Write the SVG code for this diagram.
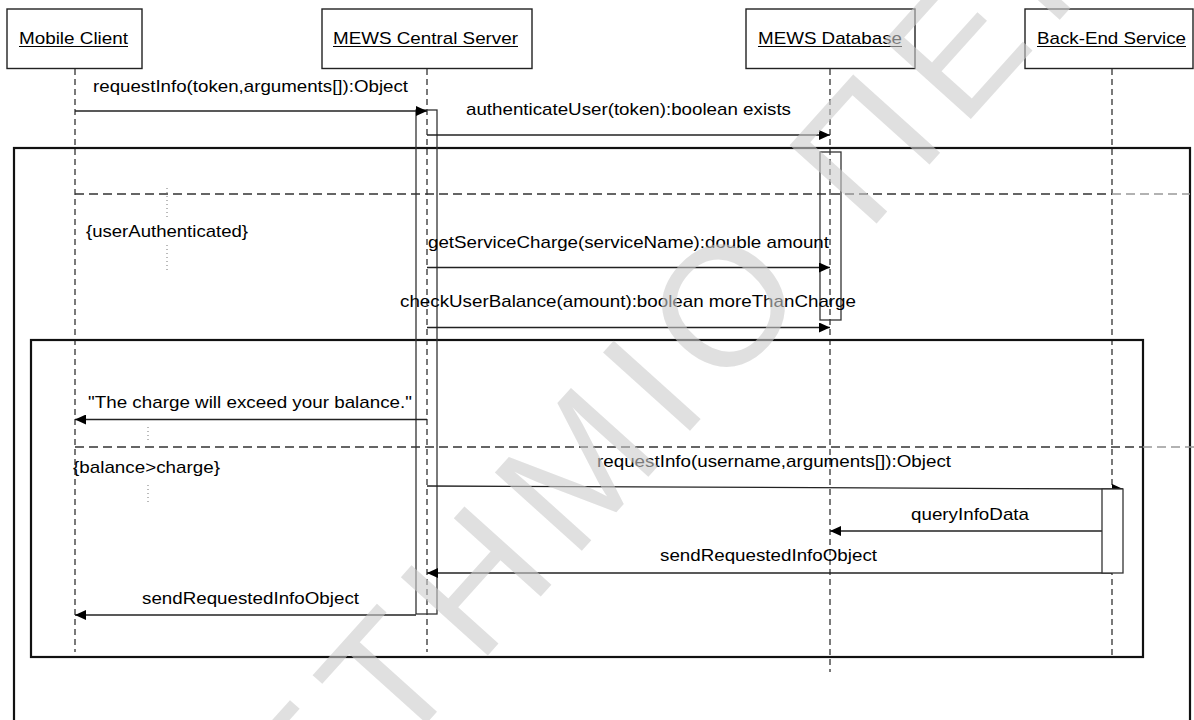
<svg xmlns="http://www.w3.org/2000/svg" width="1194" height="720" viewBox="0 0 1194 720">
<defs>
<marker id="ah" markerWidth="11" markerHeight="10" refX="11" refY="5" orient="auto" markerUnits="userSpaceOnUse"><path d="M0,0 L11,5 L0,10 z" fill="#000"/></marker>
<style>
text{font-family:"Liberation Sans",Arial,Helvetica,sans-serif;font-size:17px;fill:#000}
.hdr{stroke:#222;stroke-width:1.4;fill:#fff}
.ul{stroke:#000;stroke-width:1.2}
.ll{stroke:#333;stroke-width:1.3;stroke-dasharray:6 4;fill:none}
.frame{stroke:#111;stroke-width:2.2;fill:none}
.sep{stroke:#333;stroke-width:1.4;stroke-dasharray:9 5;fill:none}
.sep2{stroke:#999;stroke-width:1.4;stroke-dasharray:9 5;fill:none}
.dot{stroke:#777;stroke-width:1;stroke-dasharray:1 3;fill:none}
.act{stroke:#333;stroke-width:1.3;fill:none}
.actw{stroke:#333;stroke-width:1.3;fill:#fff}
.msg{stroke:#222;stroke-width:1.3;fill:none;marker-end:url(#ah)}
.wm{font-size:170px;letter-spacing:18px;fill:#cccccc;fill-opacity:0.6}
</style>
</defs>
<rect width="1194" height="720" fill="#fff"/>

<g id="mobile-client">
<rect class="hdr" x="7" y="9" width="135" height="59.5"/>
<text x="19" y="44" textLength="109" lengthAdjust="spacingAndGlyphs">Mobile Client</text>
<line class="ul" x1="19" y1="46.5" x2="128" y2="46.5"/>
<line class="ll" x1="75" y1="69" x2="75" y2="652"/>
</g>

<g id="central-server">
<rect class="hdr" x="322" y="9" width="210" height="59.5"/>
<text x="333" y="44" textLength="185" lengthAdjust="spacingAndGlyphs">MEWS Central Server</text>
<line class="ul" x1="333" y1="46.5" x2="518" y2="46.5"/>
<line class="ll" x1="427" y1="69" x2="427" y2="652"/>
</g>

<g id="database">
<rect class="hdr" x="746" y="9" width="169" height="59.5"/>
<text x="758" y="44" textLength="144" lengthAdjust="spacingAndGlyphs">MEWS Database</text>
<line class="ul" x1="758" y1="46.5" x2="902" y2="46.5"/>
<line class="ll" x1="830" y1="69" x2="830" y2="672"/>
</g>

<g id="backend-service">
<rect class="hdr" x="1025" y="9" width="168" height="59.5"/>
<text x="1037" y="44" textLength="149" lengthAdjust="spacingAndGlyphs">Back-End Service</text>
<line class="ul" x1="1037" y1="46.5" x2="1186" y2="46.5"/>
<line class="ll" x1="1112" y1="69" x2="1112" y2="657"/>
</g>

<g id="fragment-outer">
<rect class="frame" x="14" y="148" width="1176" height="600"/>
<line class="sep" x1="75" y1="194" x2="1112" y2="194"/>
<line class="sep2" x1="1112" y1="194" x2="1190" y2="194"/>
<line class="dot" x1="167" y1="188" x2="167" y2="218"/>
<line class="dot" x1="167" y1="245" x2="167" y2="270"/>
<text x="86" y="237" textLength="162" lengthAdjust="spacingAndGlyphs">{userAuthenticated}</text>
</g>

<g id="fragment-inner">
<rect class="frame" x="31" y="340" width="1112" height="317"/>
<line class="sep" x1="75" y1="447" x2="1143" y2="447"/>
<line class="sep2" x1="1143" y1="447" x2="1194" y2="447"/>
<line class="dot" x1="148" y1="427" x2="148" y2="443"/>
<line class="dot" x1="148" y1="485" x2="148" y2="505"/>
<text x="73" y="473" textLength="147" lengthAdjust="spacingAndGlyphs">{balance&gt;charge}</text>
</g>

<g id="activation-server"><rect class="act" x="416" y="110" width="21" height="504"/></g>
<g id="activation-database"><rect class="act" x="820" y="152" width="21" height="168"/></g>

<g id="connectors">
<line class="msg" x1="75" y1="111" x2="427" y2="111"/>
<text x="93" y="92" textLength="315" lengthAdjust="spacingAndGlyphs">requestInfo(token,arguments[]):Object</text>
<line class="msg" x1="427" y1="135" x2="830" y2="135"/>
<text x="466" y="115" textLength="325" lengthAdjust="spacingAndGlyphs">authenticateUser(token):boolean exists</text>
<line class="msg" x1="427" y1="267.5" x2="830" y2="267.5"/>
<text x="428" y="248" textLength="401" lengthAdjust="spacingAndGlyphs">getServiceCharge(serviceName):double amount</text>
<line class="msg" x1="427" y1="327.5" x2="830" y2="327.5"/>
<text x="400" y="307" textLength="456" lengthAdjust="spacingAndGlyphs">checkUserBalance(amount):boolean moreThanCharge</text>
<line class="msg" x1="427" y1="419.5" x2="75" y2="419.5"/>
<text x="88" y="408" textLength="324" lengthAdjust="spacingAndGlyphs">"The charge will exceed your balance."</text>
<line class="msg" x1="427" y1="486" x2="1123" y2="489"/>
<text x="597" y="467" textLength="354" lengthAdjust="spacingAndGlyphs">requestInfo(username,arguments[]):Object</text>
<line class="msg" x1="1112" y1="531" x2="830" y2="531"/>
<text x="911" y="520" textLength="118" lengthAdjust="spacingAndGlyphs">queryInfoData</text>
<line class="msg" x1="1112" y1="573" x2="427" y2="573"/>
<text x="660" y="561" textLength="217" lengthAdjust="spacingAndGlyphs">sendRequestedInfoObject</text>
<line class="msg" x1="416" y1="615" x2="75" y2="615"/>
<text x="142" y="604" textLength="217" lengthAdjust="spacingAndGlyphs">sendRequestedInfoObject</text>
</g>

<g id="activation-backend"><rect class="actw" x="1102" y="489" width="21" height="84"/></g>

<g id="watermark" transform="translate(722,304) rotate(-48)">
<text class="wm" x="-1427" y="61">ΠΑΝΕΠΙΣΤΗΜΙΟ ΠΕΙΡΑΙΩΣ</text>
</g>
</svg>
